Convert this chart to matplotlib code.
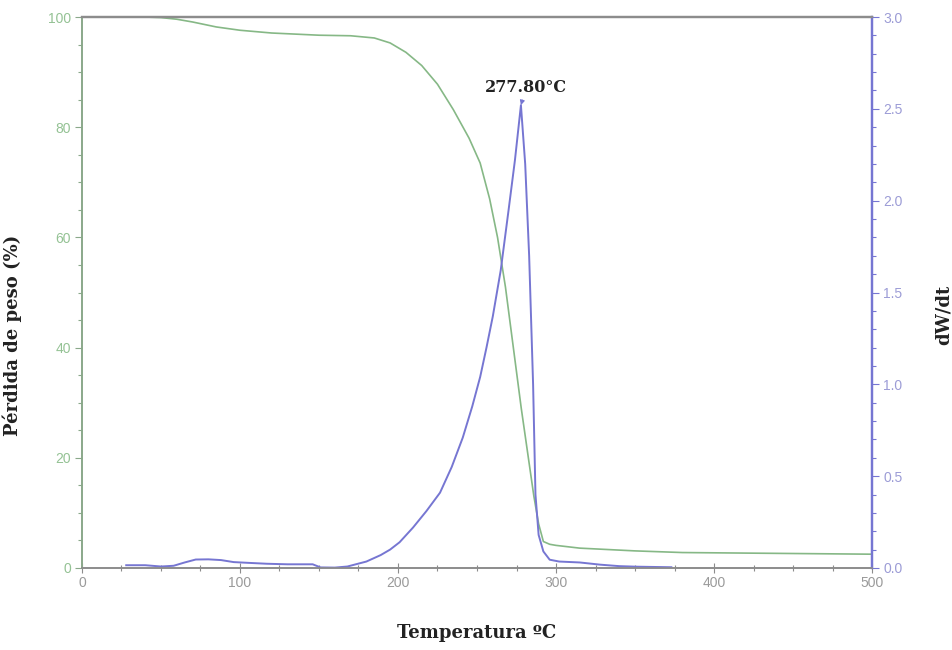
import numpy as np
import matplotlib
matplotlib.use("Agg")
import matplotlib.pyplot as plt
from matplotlib.ticker import MultipleLocator

# Thermogravimetric curve: temperature (°C) vs remaining weight (%)
tg_temp = [27, 40, 50, 60, 70, 85, 100, 120, 150, 170, 185, 195, 205, 215, 225,
           235, 245, 252, 258, 263, 268, 273, 278, 282, 286, 289, 292, 296, 300,
           315, 350, 380, 420, 460, 500]
tg_weight = [100.0, 100.0, 99.9, 99.6, 99.1, 98.2, 97.6, 97.1, 96.7, 96.6, 96.2,
             95.3, 93.6, 91.2, 87.8, 83.2, 78.0, 73.5, 67.0, 60.0, 51.0, 40.0,
             29.0, 21.0, 13.0, 8.0, 4.8, 4.3, 4.1, 3.6, 3.1, 2.8, 2.7, 2.6, 2.5]

# Derivative curve: temperature (°C) vs dW/dt
dtg_temp = [28, 40, 50, 58, 65, 72, 80, 88, 96, 105, 117, 130, 146, 151, 160, 168,
            180, 189, 195, 201, 209.5, 218, 226.6, 234, 241, 247, 252, 256, 260,
            265, 270, 274, 277.8, 280.5, 283, 285.5, 287, 289, 292, 296, 302, 315,
            328, 340, 351, 373]
dtg_rate = [0.015, 0.015, 0.008, 0.012, 0.03, 0.046, 0.047, 0.043, 0.032, 0.028,
            0.023, 0.02, 0.02, 0.003, 0.002, 0.008, 0.035, 0.07, 0.10, 0.14, 0.22,
            0.31, 0.41, 0.55, 0.71, 0.88, 1.04, 1.20, 1.37, 1.62, 1.95, 2.22, 2.52,
            2.2, 1.7, 1.0, 0.4, 0.18, 0.09, 0.045, 0.035, 0.03, 0.018, 0.01, 0.007,
            0.004]

peak_temp = 277.8
peak_rate = 2.52
peak_label = "277.80°C"

green = "#86b886"
purple = "#7676d2"
axis_gray = "#8c8c8c"

fig = plt.figure(figsize=(9.52, 6.5), dpi=100)
ax = fig.add_axes([0.0861, 0.1262, 0.8299, 0.8476])
ax2 = ax.twinx()

ax.plot(tg_temp, tg_weight, color=green, lw=1.2)
ax2.plot(dtg_temp, dtg_rate, color=purple, lw=1.4)

ax.set_xlim(0, 500)
ax.set_ylim(0, 100)
ax2.set_ylim(0, 3.0)

ax.xaxis.set_major_locator(MultipleLocator(100))
ax.xaxis.set_minor_locator(MultipleLocator(25))
ax.yaxis.set_major_locator(MultipleLocator(20))
ax.yaxis.set_minor_locator(MultipleLocator(5))
ax2.yaxis.set_major_locator(MultipleLocator(0.5))
ax2.yaxis.set_minor_locator(MultipleLocator(0.1))
ax2.yaxis.set_major_formatter(plt.FuncFormatter(lambda v, p: f"{v:.1f}"))

for lbl in ax.get_xticklabels() + ax.get_yticklabels() + ax2.get_yticklabels():
    lbl.set_fontfamily("Liberation Sans")

ax.tick_params(axis="x", which="major", direction="inout", length=7, width=0.8,
               color=axis_gray, labelcolor="#9a9a9a", labelsize=10, pad=2)
ax.tick_params(axis="x", which="minor", direction="inout", length=5, width=0.8,
               color=axis_gray)
ax.tick_params(axis="y", which="major", direction="out", length=5, width=0.8,
               color="#8aa88a", labelcolor="#94c294", labelsize=10, pad=3)
ax.tick_params(axis="y", which="minor", direction="out", length=3, width=0.8,
               color="#8aa88a")
ax2.tick_params(axis="y", which="major", direction="out", length=5, width=0.8,
                color=purple, labelcolor="#9c9cd6", labelsize=10, pad=3)
ax2.tick_params(axis="y", which="minor", direction="out", length=3, width=0.8,
                color=purple)
ax.tick_params(top=False)

for a in (ax, ax2):
    a.spines["top"].set_color(axis_gray)
    a.spines["top"].set_linewidth(1.6)
    a.spines["bottom"].set_color(axis_gray)
    a.spines["bottom"].set_linewidth(1.2)
    a.spines["left"].set_color("#8aa88a")
    a.spines["left"].set_linewidth(1.2)
    a.spines["right"].set_color(purple)
    a.spines["right"].set_linewidth(1.6)

label_font = dict(family="DejaVu Serif", weight="bold", size=13, color="#222222")
ax.set_xlabel("Temperatura ºC", **label_font)
ax.xaxis.set_label_coords(0.5, -0.102)
ax.set_ylabel("Pérdida de peso (%)", **label_font)
ax.yaxis.set_label_coords(-0.076, 0.423)
ax2.set_ylabel("dW/dt", rotation=90, **label_font)
ax2.yaxis.set_label_coords(1.08, 0.46)

ax2.annotate(peak_label, xy=(peak_temp, peak_rate), xytext=(281, 2.57),
             ha="center", va="bottom", fontsize=11.5, family="DejaVu Serif",
             weight="bold", color="#222222",
             arrowprops=dict(arrowstyle="-|>", color=purple, lw=0.8,
                             mutation_scale=7, shrinkA=1, shrinkB=0))

fig.savefig("out.png", dpi=100)
